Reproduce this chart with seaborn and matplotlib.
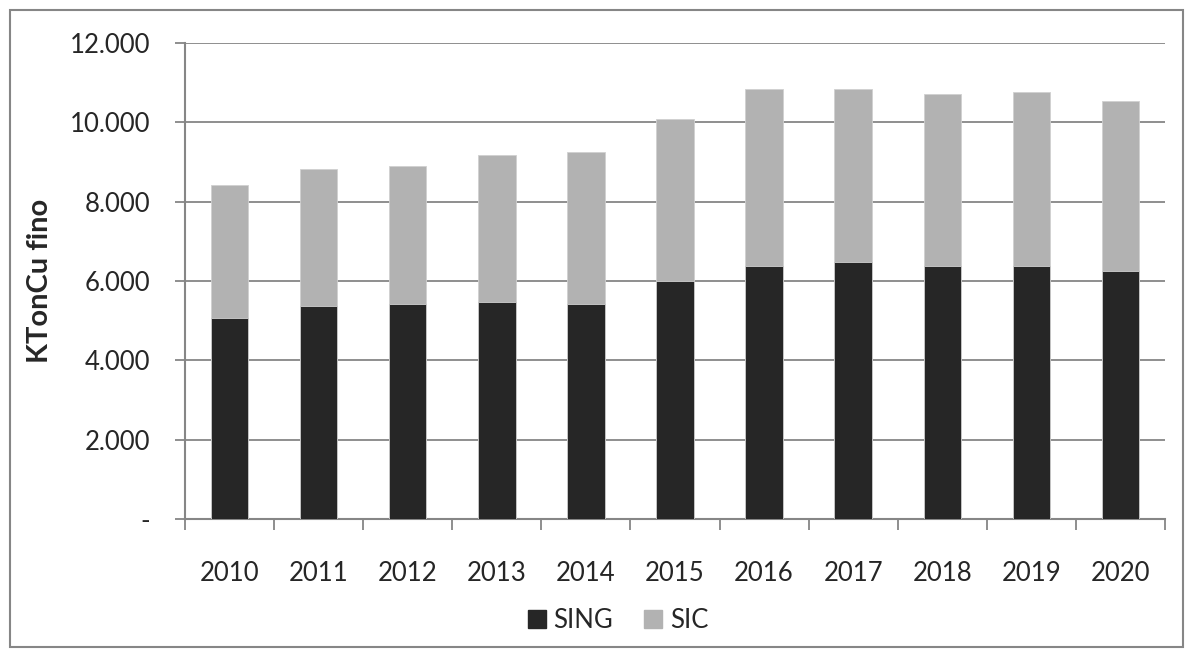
import matplotlib
matplotlib.use("Agg")
import matplotlib.pyplot as plt
import matplotlib.patches as mpatches
from matplotlib.ticker import FixedLocator, FixedFormatter
import seaborn as sns
import pandas as pd

years = ["2010", "2011", "2012", "2013", "2014", "2015", "2016", "2017", "2018", "2019", "2020"]
sing = [5070, 5360, 5410, 5480, 5410, 5990, 6380, 6490, 6380, 6380, 6260]
sic = [3360, 3470, 3480, 3700, 3830, 4100, 4450, 4340, 4340, 4390, 4290]
y_ticks = [0, 2000, 4000, 6000, 8000, 10000, 12000]
y_tick_labels = ["-", "2.000", "4.000", "6.000", "8.000", "10.000", "12.000"]

df = pd.DataFrame({"year": years, "SING": sing, "SIC": sic})
df["total"] = df["SING"] + df["SIC"]

sns.set_theme(style="white")
plt.rcParams["font.family"] = ["Lato", "DejaVu Sans"]

c_sing = "#262626"
c_sic = "#b2b2b2"
gcol = "#868686"
fs = 18.5

fig = plt.figure(figsize=(11.94, 6.57), dpi=100)
ax = fig.add_axes([185 / 1194, 1 - 519 / 657, (1165 - 185) / 1194, (519 - 43) / 657])

sns.barplot(data=df, x="year", y="total", color=c_sic, width=0.42, ax=ax,
            saturation=1, edgecolor="#d0d0d0", linewidth=0.6, zorder=3)
sns.barplot(data=df, x="year", y="SING", color=c_sing, width=0.42, ax=ax,
            saturation=1, edgecolor="#d0d0d0", linewidth=0.6, zorder=4)

ax.set_xlim(-0.5, len(years) - 0.5)
ax.set_ylim(0, 12000)
ax.yaxis.set_major_locator(FixedLocator(y_ticks))
ax.yaxis.set_major_formatter(FixedFormatter(y_tick_labels))
ax.grid(axis="y", color=gcol, linewidth=1.3, zorder=0)
ax.set_axisbelow(True)

for s in ["top", "right"]:
    ax.spines[s].set_visible(False)
for s in ["left", "bottom"]:
    ax.spines[s].set_color(gcol)
    ax.spines[s].set_linewidth(1.5)

ax.tick_params(axis="y", which="major", length=7, width=1.3, color=gcol,
               direction="out", labelsize=fs, pad=18, left=True)
ax.tick_params(axis="x", which="major", length=0, labelsize=fs, pad=30)
ax.set_xticks(range(len(years)))
ax.set_xticklabels(years)
ax.set_xticks([i - 0.5 for i in range(len(years) + 1)], minor=True)
ax.tick_params(axis="x", which="minor", length=8, width=1.3, color=gcol,
               direction="out", bottom=True)

ax.set_xlabel("")
ax.set_ylabel("KTonCu fino", fontsize=21, fontweight="bold", labelpad=12)

handles = [mpatches.Patch(color=c_sing, label="SING"),
           mpatches.Patch(color=c_sic, label="SIC")]
fig.legend(handles=handles, loc="center", bbox_to_anchor=(618 / 1194, 1 - 620 / 657),
           ncol=2, frameon=False, fontsize=fs, handlelength=0.7, handleheight=0.7,
           handletextpad=0.3, columnspacing=1.2)

border = mpatches.Rectangle((10 / 1194, 10 / 657), 1173 / 1194, 637 / 657,
                            transform=fig.transFigure, fill=False,
                            edgecolor=gcol, linewidth=1.5)
fig.patches.append(border)

fig.savefig("out.png", dpi=100)
